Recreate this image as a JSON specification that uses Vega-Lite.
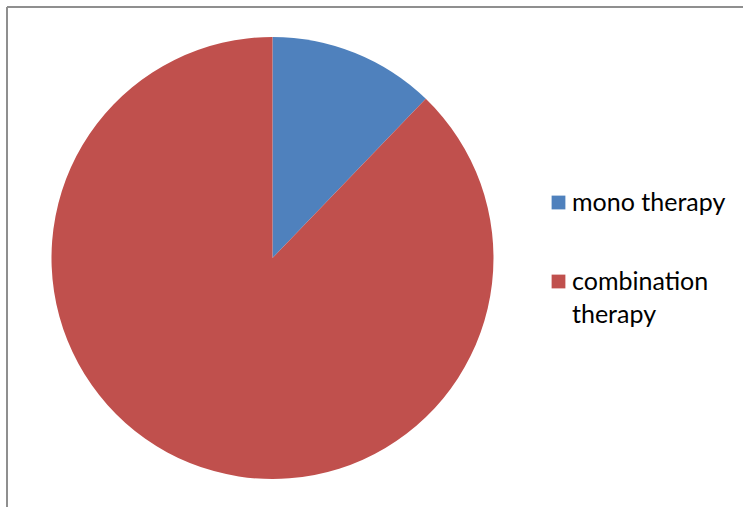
{
  "$schema": "https://vega.github.io/schema/vega-lite/v6.json",
  "width": 531,
  "height": 502,
  "padding": {"left": 6, "top": 6, "right": 0, "bottom": 0},
  "background": "white",
  "config": {"view": {"stroke": null}},
  "layer": [
    {
      "data": {"values": [{"edge": "top"}]},
      "mark": {"type": "rule", "color": "#8f8f8f", "strokeWidth": 2, "x2Offset": 260},
      "encoding": {"x": {"value": 0}, "x2": {"value": "width"}, "y": {"value": 0}}
    },
    {
      "data": {"values": [{"edge": "left"}]},
      "mark": {"type": "rule", "color": "#8f8f8f", "strokeWidth": 2, "y2Offset": 20},
      "encoding": {"x": {"value": 0}, "y": {"value": 0}, "y2": {"value": "height"}}
    },
    {
      "data": {"values": [
        {"category": "mono therapy", "share": 12.2},
        {"category": "combination therapy", "share": 87.8}
      ]},
      "mark": {"type": "arc", "outerRadius": 221},
      "encoding": {
        "theta": {"field": "share", "type": "quantitative", "stack": true},
        "order": {"field": "share", "type": "quantitative", "sort": "ascending"},
        "color": {
          "field": "category",
          "type": "nominal",
          "scale": {"domain": ["mono therapy", "combination therapy"], "range": ["#4F81BD", "#C0504D"]},
          "legend": {
            "title": null,
            "orient": "none",
            "legendX": 539,
            "legendY": 183,
            "symbolType": "square",
            "symbolSize": 190,
            "symbolStrokeWidth": 0,
            "labelFont": "Lato",
            "labelFontSize": 25,
            "labelColor": "#000000",
            "labelOffset": 1,
            "rowPadding": 53,
            "labelLimit": 300,
            "labelExpr": "datum.label == 'combination therapy' ? ['combination', 'therapy'] : datum.label",
            "encode": {"labels": {"update": {"lineHeight": {"value": 33}}}}
          }
        }
      }
    }
  ]
}
